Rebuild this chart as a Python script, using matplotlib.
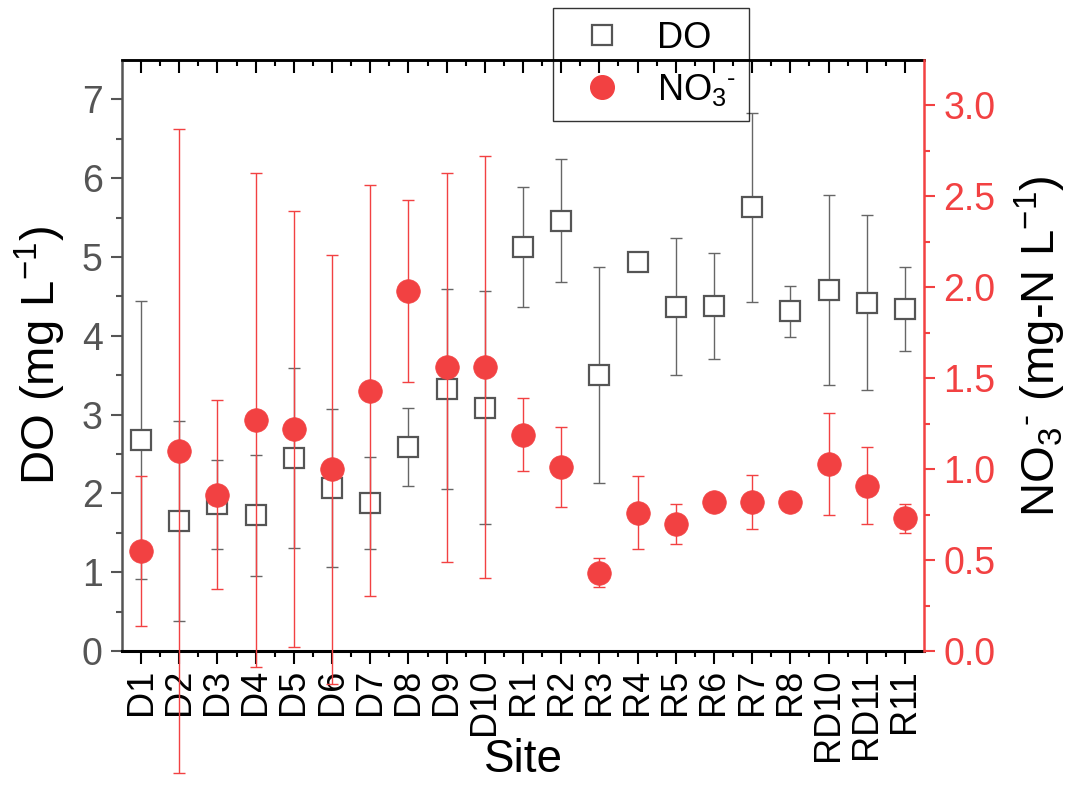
import numpy as np
import matplotlib
matplotlib.use("Agg")
import matplotlib.pyplot as plt
from matplotlib.lines import Line2D

sites = ['D1', 'D2', 'D3', 'D4', 'D5', 'D6', 'D7', 'D8', 'D9', 'D10',
         'R1', 'R2', 'R3', 'R4', 'R5', 'R6', 'R7', 'R8', 'RD10', 'RD11', 'R11']
do_mean = [2.68, 1.65, 1.86, 1.72, 2.45, 2.07, 1.88, 2.59, 3.33, 3.09,
           5.13, 5.46, 3.50, 4.94, 4.37, 4.38, 5.63, 4.31, 4.58, 4.42, 4.34]
do_err = [1.76, 1.27, 0.56, 0.77, 1.14, 1.00, 0.58, 0.50, 1.27, 1.48,
          0.76, 0.78, 1.37, 0.10, 0.87, 0.67, 1.20, 0.32, 1.21, 1.11, 0.53]
no3_mean = [0.55, 1.10, 0.86, 1.27, 1.22, 1.00, 1.43, 1.98, 1.56, 1.56,
            1.19, 1.01, 0.43, 0.76, 0.70, 0.82, 0.82, 0.82, 1.03, 0.91, 0.73]
no3_err = [0.41, 1.77, 0.52, 1.36, 1.20, 1.18, 1.13, 0.50, 1.07, 1.16,
           0.20, 0.22, 0.08, 0.20, 0.11, 0.00, 0.15, 0.00, 0.28, 0.21, 0.08]

plt.rcParams['font.family'] = ['Liberation Sans', 'DejaVu Sans']
plt.rcParams['mathtext.fontset'] = 'custom'
plt.rcParams['mathtext.rm'] = 'Liberation Sans'
plt.rcParams['mathtext.it'] = 'Liberation Sans:italic'
plt.rcParams['mathtext.default'] = 'regular'

# superscript hyphen placed after the subscript (as in the reference)
try:
    from matplotlib.mathtext import MathTextParser
    MathTextParser('agg').parse(r'$_3{}^{\text{-}}$', dpi=100)
    NO3 = r'NO$_3{}^{\text{-}}$'
except Exception:
    NO3 = r'NO$_3{}^{-}$'

GRAY = '#555555'
RED = '#F24142'

fig = plt.figure(figsize=(10.74, 7.86), dpi=100)
ax = fig.add_axes([122/1074, 1-651/786, 802/1074, 591/786])
ax2 = ax.twinx()

x = np.arange(1, len(sites) + 1)

ax.errorbar(x, do_mean, yerr=do_err, fmt='none', ecolor='#666666',
            elinewidth=1.0, capsize=4, capthick=1.0, zorder=2)
ax.plot(x, do_mean, linestyle='none', marker='s', markersize=14,
        markerfacecolor='white', markeredgecolor=GRAY, markeredgewidth=1.6, zorder=3)

eb = ax2.errorbar(x, no3_mean, yerr=no3_err, fmt='none', ecolor=RED,
                  elinewidth=1.0, capsize=4, capthick=1.0, zorder=2)
for art in eb.get_children():
    art.set_clip_on(False)
ax2.plot(x, no3_mean, linestyle='none', marker='o', markersize=17,
         markerfacecolor=RED, markeredgecolor=RED, markeredgewidth=0.5, zorder=3)

ax.set_xlim(0.5, len(sites) + 0.5)
ax.set_ylim(0, 7.5)
ax2.set_ylim(0, 3.25)

ax.set_xticks(x, labels=sites)
ax.set_xticks(np.arange(1.5, len(sites), 1), minor=True)
for lab in ax.get_xticklabels():
    lab.set_rotation(90)
    lab.set_fontsize(26)
ax.set_yticks(np.arange(0, 7.01, 1))
ax.set_yticks(np.arange(0.5, 7.5, 1), minor=True)
ax2.set_yticks(np.arange(0, 3.01, 0.5))
ax2.set_yticks(np.arange(0.25, 3.25, 0.5), minor=True)
ax2.set_yticklabels([f'{v:.1f}' for v in np.arange(0, 3.01, 0.5)])

ax.tick_params(axis='x', which='major', direction='out', length=9, width=1.5,
               color='black', pad=4)
ax.tick_params(axis='x', which='minor', direction='out', length=4.5, width=1.5, color='black')
ax.tick_params(axis='y', which='major', direction='out', length=8, width=1.5,
               color=GRAY, labelcolor=GRAY, labelsize=27, pad=6)
ax.tick_params(axis='y', which='minor', direction='out', length=4, width=1.5, color=GRAY)
ax2.tick_params(axis='y', which='major', direction='out', length=8, width=1.5,
                color=RED, labelcolor=RED, labelsize=27, pad=6)
ax2.tick_params(axis='y', which='minor', direction='out', length=4, width=1.5, color=RED)

top = ax.secondary_xaxis('top')
top.set_xticks(x, labels=[])
top.set_xticks(np.arange(1.5, len(sites), 1), minor=True)
top.tick_params(which='major', direction='in', length=9, width=1.5, color='black')
top.tick_params(which='minor', direction='in', length=4.5, width=1.5, color='black')
top.spines['top'].set_linewidth(1.8)

for sp in ['left', 'right', 'top', 'bottom']:
    ax2.spines[sp].set_visible(False)
ax2.spines['right'].set_visible(True)
ax2.spines['right'].set_color(RED)
ax2.spines['right'].set_linewidth(1.8)
ax.spines['left'].set_color(GRAY)
ax.spines['left'].set_linewidth(1.8)
ax.spines['bottom'].set_linewidth(2.2)
ax.spines['top'].set_linewidth(1.8)
ax.spines['right'].set_visible(False)

ax.set_xlabel('Site', fontsize=33)
ax.xaxis.set_label_coords(0.5, (651 - 760) / 591)
ax.xaxis.label.set_va('center')
ax.set_ylabel(r'DO (mg L$^{-1}$)', fontsize=34)
ax.yaxis.set_label_coords((40 - 122) / 802, 0.5)
ax.yaxis.label.set_va('center')
ax.yaxis.label.set_ha('center')
ax2.set_ylabel(NO3 + r' (mg-N L$^{-1}$)', fontsize=34)
ax2.yaxis.set_label_coords((1040 - 122) / 802, 0.515)
ax2.yaxis.label.set_va('center')
ax2.yaxis.label.set_ha('center')

handles = [
    Line2D([], [], linestyle='none', marker='s', markersize=14,
           markerfacecolor='white', markeredgecolor=GRAY, markeredgewidth=1.6),
    Line2D([], [], linestyle='none', marker='o', markersize=17,
           markerfacecolor=RED, markeredgecolor=RED),
]
leg = fig.legend(handles, ['DO', NO3], loc='upper left',
                 bbox_to_anchor=(553/1074, 1-8/786), fontsize=26,
                 frameon=True, fancybox=False, edgecolor='black',
                 facecolor='none', framealpha=None, borderpad=0.35,
                 labelspacing=0.45, handletextpad=0.54, handlelength=2.0,
                 borderaxespad=0)
leg.get_frame().set_linewidth(1.0)

fig.savefig('out.png', dpi=100)
